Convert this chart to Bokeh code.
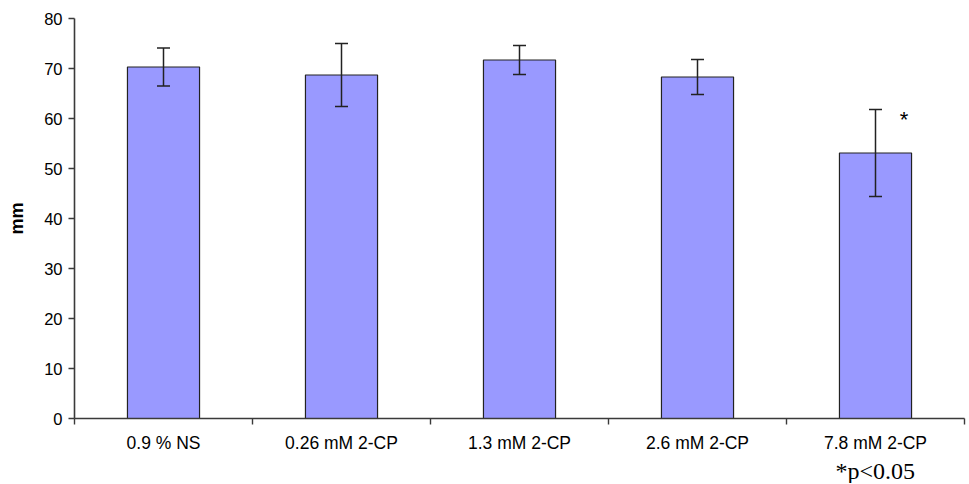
from bokeh.plotting import figure
from bokeh.models import (ColumnDataSource, Range1d, FixedTicker, Whisker, TeeHead, Label, Title)
from bokeh.embed import file_html
from bokeh.resources import INLINE

categories = ["0.9 % NS", "0.26 mM 2-CP", "1.3 mM 2-CP", "2.6 mM 2-CP", "7.8 mM 2-CP"]
means = [70.3, 68.7, 71.7, 68.3, 53.1]
errors = [3.8, 6.3, 2.9, 3.5, 8.7]
y_ticks = [0, 10, 20, 30, 40, 50, 60, 70, 80]
y_label = "mm"
footnote = "*p<0.05"
sig_mark = "*"
sig_index = 4

xc = [i + 0.5 for i in range(len(categories))]
src = ColumnDataSource(dict(
    xc=xc, mean=means,
    upper=[m + e for m, e in zip(means, errors)],
    lower=[m - e for m, e in zip(means, errors)],
))

p = figure(frame_width=890, frame_height=400,
           min_border_left=74, min_border_right=2, min_border_top=18, min_border_bottom=10,
           x_range=Range1d(0, len(categories)), y_range=Range1d(0, 80),
           output_backend="svg", toolbar_location=None)
p.outline_line_color = None
p.xgrid.visible = False
p.ygrid.visible = False
p.background_fill_color = "white"

axis_col = "#3a3a3a"
FONT = "Liberation Sans"

p.vbar(x="xc", top="mean", width=0.405, source=src,
       fill_color="#9999FF", line_color="#222222", line_width=1.2)

tee_u = TeeHead(size=13, line_color="#222222", line_width=1.5)
tee_l = TeeHead(size=13, line_color="#222222", line_width=1.5)
wk = Whisker(source=src, base="xc", upper="upper", lower="lower",
             line_color="#222222", line_width=1.5,
             upper_head=tee_u, lower_head=tee_l, level="overlay")
p.add_layout(wk)

# y axis
ya = p.yaxis[0]
ya.ticker = FixedTicker(ticks=y_ticks)
ya.axis_label = y_label
ya.axis_label_text_font = FONT
ya.axis_label_text_font_size = "18px"
ya.axis_label_text_font_style = "bold"
ya.axis_label_text_color = "black"
ya.axis_label_standoff = 14
ya.major_label_text_font = FONT
ya.major_label_text_font_size = "16.5px"
ya.major_label_text_color = "black"
ya.major_label_standoff = 6
ya.major_tick_out = 6
ya.major_tick_in = 0
ya.minor_tick_line_color = None
ya.axis_line_color = axis_col
ya.axis_line_width = 1.6
ya.major_tick_line_color = axis_col
ya.major_tick_line_width = 1.4

# x axis
xa = p.xaxis[0]
xa.ticker = FixedTicker(ticks=xc, minor_ticks=list(range(len(categories) + 1)))
xa.major_label_overrides = {x: c for x, c in zip(xc, categories)}
xa.major_label_text_font = FONT
xa.major_label_text_font_size = "17.5px"
xa.major_label_text_color = "black"
xa.major_label_standoff = 8
xa.major_tick_out = 0
xa.major_tick_in = 0
xa.major_tick_line_color = None
xa.minor_tick_out = 6
xa.minor_tick_in = 0
xa.minor_tick_line_color = axis_col
xa.minor_tick_line_width = 1.4
xa.axis_line_color = axis_col
xa.axis_line_width = 1.6

# significance marker
p.add_layout(Label(x=xc[sig_index] + 0.16, y=62.4, text=sig_mark,
                   text_font=FONT, text_font_size="22px", text_color="black",
                   text_align="center", text_baseline="top"))

# footnote below the axis, under the last category
p.add_layout(Title(text=footnote, align="left", offset=761, standoff=0,
                   text_font="Liberation Serif", text_font_size="24px",
                   text_font_style="normal", text_color="black"), "below")

open("out.html", "w").write(file_html(p, INLINE))
